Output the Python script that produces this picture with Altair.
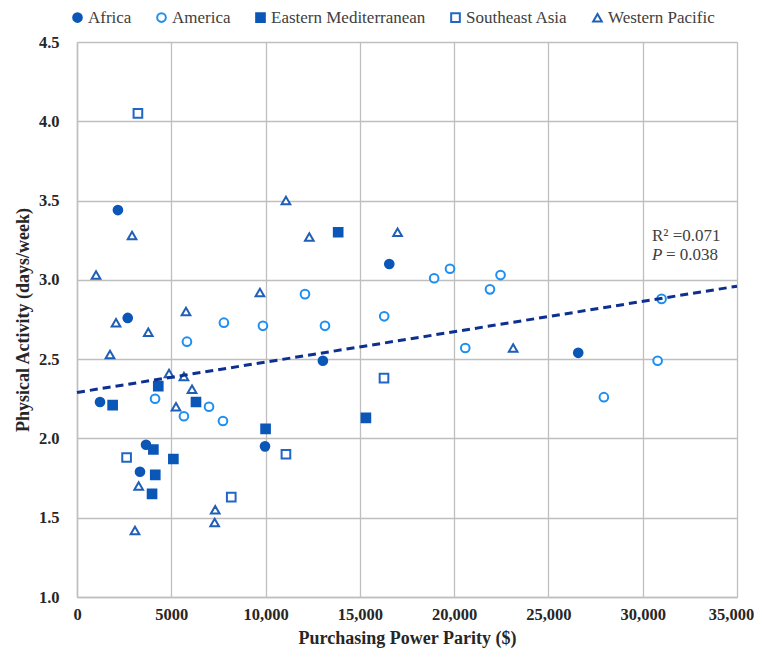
import altair as alt
import pandas as pd

# ---------------- data ----------------
regions = ["Africa", "America", "Eastern Mediterranean", "Southeast Asia", "Western Pacific"]

africa_x = [1220, 2170, 2690, 3340, 3660, 9970, 13040, 16560, 26580]
africa_y = [2.23, 3.44, 2.76, 1.79, 1.96, 1.95, 2.49, 3.10, 2.54]

america_x = [5830, 7790, 9860, 12090, 13150, 4140, 5670, 7000, 7740, 16290,
             18940, 19780, 21900, 22460, 20590, 31000, 30790, 27940]
america_y = [2.61, 2.73, 2.71, 2.91, 2.71, 2.25, 2.14, 2.20, 2.11, 2.77,
             3.01, 3.07, 2.94, 3.03, 2.57, 2.88, 2.49, 2.26]

emed_x = [13850, 4310, 1890, 6310, 10000, 4050, 5110, 4150, 3980, 15320]
emed_y = [3.30, 2.33, 2.21, 2.23, 2.06, 1.93, 1.87, 1.77, 1.65, 2.13]

sea_x = [3230, 2630, 11080, 8180, 16280]
sea_y = [4.05, 1.88, 1.90, 1.63, 2.38]

wp_x = [1010, 2920, 11080, 12320, 9700, 5780, 2070, 3780, 1750, 17000,
        23130, 4880, 5670, 6100, 5250, 3270, 7330, 7300, 3075]
wp_y = [3.03, 3.28, 3.50, 3.27, 2.92, 2.80, 2.73, 2.67, 2.53, 3.30,
        2.57, 2.41, 2.39, 2.31, 2.20, 1.70, 1.55, 1.47, 1.42]

trend_x = [0, 35000]
trend_y = [2.29, 2.96]

x_ticks = [0, 5000, 10000, 15000, 20000, 25000, 30000, 35000]
x_tick_labels = ["0", "5000", "10,000", "15,000", "20,000", "25,000", "30,000", "35,000"]
y_ticks = [1.0, 1.5, 2.0, 2.5, 3.0, 3.5, 4.0, 4.5]

note_line1 = "R\u00b2 =0.071"
note_p = "P"
note_line2 = "= 0.038"

# ---------------- styles ----------------
stroke_colors = ["#0b57b8", "#1c8ff0", "#0b57b8", "#2166c4", "#1f5fb8"]
fill_colors = ["#0b57b8", "white", "#0b57b8", "white", "white"]
shapes = ["circle", "circle", "square", "square", "triangle-up"]
FONT = "Liberation Serif, Times New Roman, serif"

rows = []
for name, xs, ys in [("Africa", africa_x, africa_y), ("America", america_x, america_y),
                     ("Eastern Mediterranean", emed_x, emed_y),
                     ("Southeast Asia", sea_x, sea_y), ("Western Pacific", wp_x, wp_y)]:
    for x, y in zip(xs, ys):
        rows.append({"ppp": x, "pa": y, "Region": name})
df = pd.DataFrame(rows)
trend_df = pd.DataFrame({"ppp": trend_x, "pa": trend_y})

label_expr = "[" + ",".join("'" + s + "'" for s in x_tick_labels) + "][round(datum.value/5000)]"

xscale = alt.Scale(domain=[0, 35000], nice=False, zero=False)
yscale = alt.Scale(domain=[1.0, 4.5], nice=False, zero=False)

xaxis = alt.Axis(values=x_ticks, labelExpr=label_expr, title="Purchasing Power Parity ($)",
                 ticks=False, labelPadding=9, titlePadding=7, labelFontSize=16.5,
                 labelFontWeight="bold", titleFontSize=18, titleFontWeight="bold",
                 labelFont=FONT, titleFont=FONT, labelColor="#262626", titleColor="#262626",
                 domainColor="#bfbfbf", domainWidth=1.5, gridColor="#bfbfbf", gridWidth=1.3,
                 labelFlush=False,
                 labelOffset={"condition": {"test": "datum.value == 35000", "value": -6}, "value": 0})
yaxis = alt.Axis(values=y_ticks, format=".1f", title="Physical Activity (days/week)",
                 ticks=False, labelPadding=18, titlePadding=6, labelFontSize=16.5,
                 labelFontWeight="bold", titleFontSize=18, titleFontWeight="bold",
                 labelFont=FONT, titleFont=FONT, labelColor="#262626", titleColor="#262626",
                 domainColor="#bfbfbf", domainWidth=1.5, gridColor="#bfbfbf", gridWidth=1.3,
                 labelFlush=False)

legend = alt.Legend(title=None, orient="none", direction="horizontal", columns=5,
                    legendX=-8, legendY=-33, labelFont=FONT, labelFontSize=17,
                    labelColor="#404040", symbolSize=75, symbolStrokeWidth=2,
                    labelOffset=2, columnPadding=21, padding=0)

points = alt.Chart(df).mark_point(filled=False, size=75, strokeWidth=2, opacity=1).encode(
    x=alt.X("ppp:Q", scale=xscale, axis=xaxis),
    y=alt.Y("pa:Q", scale=yscale, axis=yaxis),
    shape=alt.Shape("Region:N", scale=alt.Scale(domain=regions, range=shapes), legend=legend),
    stroke=alt.Stroke("Region:N", scale=alt.Scale(domain=regions, range=stroke_colors), legend=legend),
    fill=alt.Fill("Region:N", scale=alt.Scale(domain=regions, range=fill_colors), legend=legend),
)

trend = alt.Chart(trend_df).mark_line(color="#0d2f8f", strokeWidth=3, strokeDash=[8, 5]).encode(
    x=alt.X("ppp:Q", scale=xscale),
    y=alt.Y("pa:Q", scale=yscale),
)

note_df1 = pd.DataFrame({"t": [note_line1]})
note_df2 = pd.DataFrame({"t": [note_p]})
note_df3 = pd.DataFrame({"t": [note_line2]})
n1 = alt.Chart(note_df1).mark_text(font=FONT, fontSize=17, color="#404040", align="left",
                                   baseline="middle").encode(
    text="t:N", x=alt.value(575), y=alt.value(194))
n2 = alt.Chart(note_df2).mark_text(font=FONT, fontSize=17, fontStyle="italic", color="#404040",
                                   align="left", baseline="middle").encode(
    text="t:N", x=alt.value(575), y=alt.value(213))
n3 = alt.Chart(note_df3).mark_text(font=FONT, fontSize=17, color="#404040", align="left",
                                   baseline="middle").encode(
    text="t:N", x=alt.value(589), y=alt.value(213))

chart = alt.layer(points, trend, n1, n2, n3).properties(
    width=660, height=555,
    autosize=alt.AutoSizeParams(type="none"),
    padding={"left": 69, "top": 34, "right": 17, "bottom": 54},
).configure_view(stroke="#bfbfbf", strokeWidth=1.3).configure(background="white")

chart.save("out.html", embed_options={"renderer": "svg", "actions": False})
